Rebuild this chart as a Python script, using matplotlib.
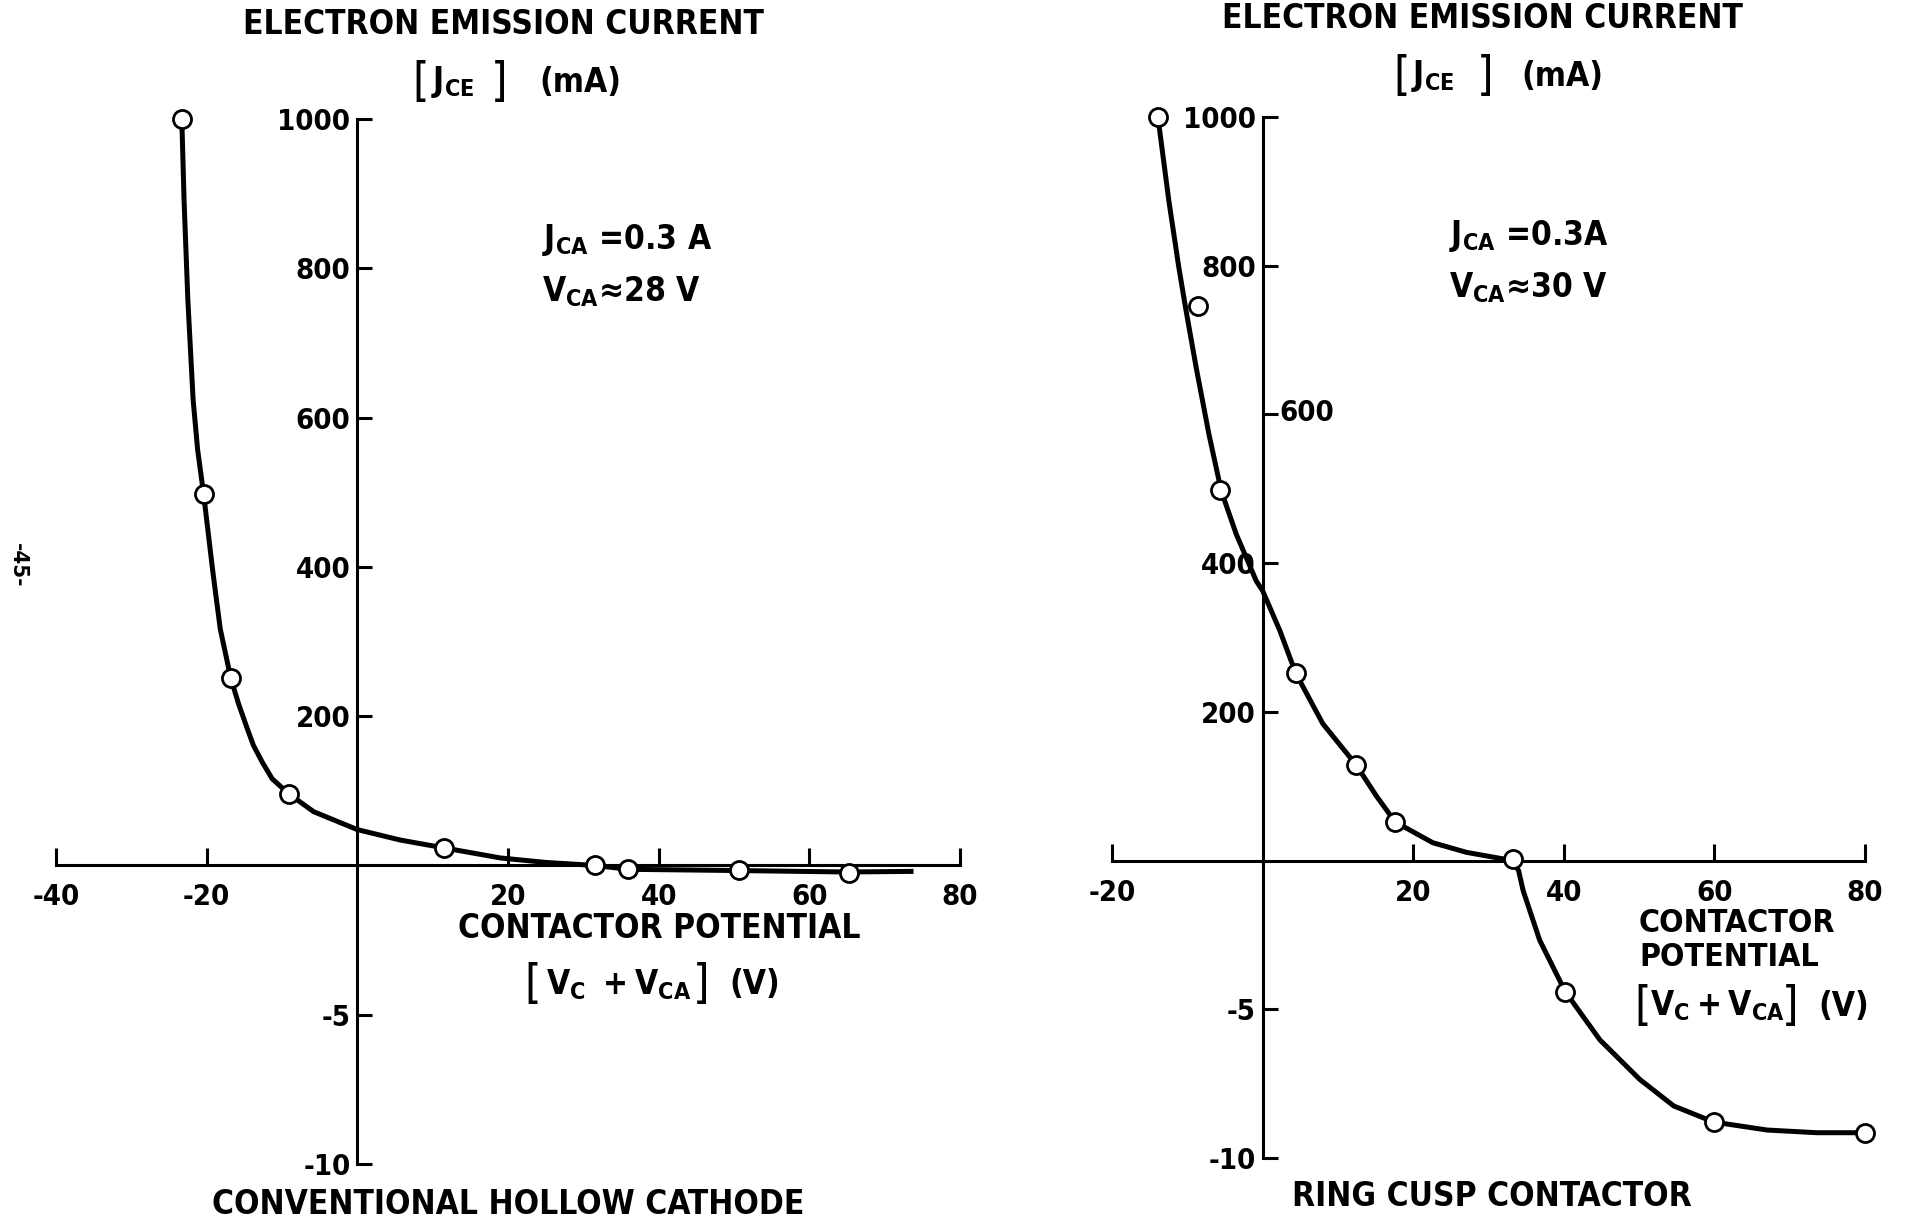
import numpy as np
import matplotlib.pyplot as plt

# conventional hollow cathode: measured points and drawn curve
hc_v = [-23.3, -20.4, -16.8, -9.1, 11.5, 31.5, 35.9, 50.6, 65.3]
hc_j = [1000, 497, 251, 96, 23.5, 1, -0.13, -0.16, -0.25]
hc_curve_v = [-23.3, -23.0, -22.5, -21.8, -21.2, -20.4, -19.2, -18.2, -16.8, -15.75,
              -14.6, -13.8, -12.6, -11.3, -9.1, -5.8, 0, 5.7, 11.5, 19, 25, 31.5,
              36, 50, 65, 73.5]
hc_curve_j = [1000, 891, 758, 624, 557, 497, 395, 317, 251, 216,
              183, 161, 138, 116, 96, 72, 48, 34, 23.5, 10, 4, 0,
              -0.13, -0.17, -0.22, -0.2]

# ring cusp contactor
rc_v = [-13.9, -8.6, -5.6, 4.4, 12.4, 17.6, 33.2, 40.2, 59.9, 80.0]
rc_j = [1000, 746, 498, 252, 129, 52, 2, -4.41, -8.79, -9.15]
rc_curve_v = [-13.9, -12.46, -11.13, -10.24, -8.82, -7.14, -5.49, -3.5, -0.84, 0, 2.3,
              4.4, 6.25, 8.0, 12.4, 15.1, 17.6, 22.6, 27.1, 33.2, 34.0, 34.6, 36.8,
              40.2, 44.8, 50.1, 54.6, 59.9, 67.0, 73.6, 80.0]
rc_curve_j = [1000, 888, 798, 744, 663, 574, 497, 439, 376, 363, 309,
              252, 217, 184, 129, 87, 52, 24, 11, 0, -0.34, -1.01, -2.68,
              -4.41, -6.03, -7.36, -8.25, -8.79, -9.06, -9.15, -9.15]

yticks = [-10, -5, 200, 400, 600, 800, 1000]
ytick_labels = ["-10", "-5", "200", "400", "600", "800", "1000"]
hc_xticks = [-40, -20, 20, 40, 60, 80]
rc_xticks = [-20, 20, 40, 60, 80]

W, H = 1906, 1217


def fwd(y):
    y = np.asarray(y, dtype=float)
    return np.where(y >= 0, y / 200.0, y / 5.0)


def inv(t):
    t = np.asarray(t, dtype=float)
    return np.where(t >= 0, t * 200.0, t * 5.0)


plt.rcParams['font.family'] = ['DejaVu Sans']
plt.rcParams['font.stretch'] = 'condensed'
plt.rcParams['font.weight'] = 'bold'
plt.rcParams['mathtext.fontset'] = 'custom'
plt.rcParams['mathtext.rm'] = 'DejaVu Sans:bold'

fig = plt.figure(figsize=(W / 100, H / 100), dpi=100)


def px(x, y):
    return x / W, 1 - y / H


def make_axes(rect, xlim, xticks, pts, curve):
    ax = fig.add_axes(rect)
    ax.set_yscale('function', functions=(fwd, inv))
    ax.set_xlim(*xlim)
    ax.set_ylim(-10, 1000)
    for s in ['top', 'right']:
        ax.spines[s].set_visible(False)
    ax.spines['left'].set_position(('data', 0))
    ax.spines['bottom'].set_position(('data', 0))
    for s in ['left', 'bottom']:
        ax.spines[s].set_linewidth(2.2)
    ax.set_xticks(xticks)
    ax.set_xticklabels([str(t) for t in xticks])
    ax.set_yticks(yticks)
    ax.set_yticklabels(ytick_labels)
    ax.minorticks_off()
    ax.tick_params(axis='x', direction='in', length=12, width=2.2, pad=13, labelsize=21)
    ax.tick_params(axis='y', direction='in', length=11, width=2.2, pad=5, labelsize=21)
    ax.plot(curve[0], curve[1], color='black', lw=3.6, clip_on=False, zorder=3,
            solid_joinstyle='round')
    ax.plot(pts[0], pts[1], 'o', ms=13, mfc='white', mec='black', mew=2.0,
            clip_on=False, zorder=4)
    ax.patch.set_visible(False)
    return ax


ax1 = make_axes([56 / W, 1 - 1164 / H, (960 - 56) / W, (1164 - 119) / H],
                (-40, 80), hc_xticks, (hc_v, hc_j), (hc_curve_v, hc_curve_j))
ax2 = make_axes([1112 / W, 1 - 1158 / H, (1865 - 1112) / W, (1158 - 117) / H],
                (-20, 80), rc_xticks, (rc_v, rc_j), (rc_curve_v, rc_curve_j))
labels2 = ytick_labels.copy()
labels2[4] = ""
ax2.set_yticklabels(labels2)
fig.text(*px(1279, 413), "600", fontsize=21, ha='left', va='center')

big = 24


def bracketed(xl, xin, xr, xu, y, inner, unit):
    fig.text(*px(xl, y), "[", fontsize=34, fontweight='normal', ha='left', va='center')
    fig.text(*px(xin, y), inner, fontsize=big, ha='left', va='center')
    fig.text(*px(xr, y), "]", fontsize=34, fontweight='normal', ha='left', va='center')
    fig.text(*px(xu, y), unit, fontsize=big, ha='left', va='center')


# left panel texts
fig.text(*px(503, 25), "ELECTRON EMISSION CURRENT", fontsize=big, ha='center', va='center')
bracketed(412, 431, 491, 539, 82, r"$\mathregular{J_{CE}}$", "(mA)")
fig.text(*px(542, 240), r"$\mathregular{J_{CA}}$ =0.3 A", fontsize=big, ha='left', va='center')
fig.text(*px(542, 292), r"$\mathregular{V_{CA}}$≈28 V", fontsize=big, ha='left', va='center')
fig.text(*px(659, 929), "CONTACTOR POTENTIAL", fontsize=big, ha='center', va='center')
bracketed(524, 546, 693, 729, 985, r"$\mathregular{V_{C}\ +V_{CA}}$", "(V)")
fig.text(*px(508, 1204), "CONVENTIONAL HOLLOW CATHODE", fontsize=big, ha='center', va='center')
fig.text(*px(18, 565), "-45-", fontsize=16, rotation=-90, ha='center', va='center')

# right panel texts
fig.text(*px(1482, 19), "ELECTRON EMISSION CURRENT", fontsize=big, ha='center', va='center')
bracketed(1393, 1411, 1477, 1521, 76, r"$\mathregular{J_{CE}}$", "(mA)")
fig.text(*px(1449, 236), r"$\mathregular{J_{CA}}$ =0.3A", fontsize=big, ha='left', va='center')
fig.text(*px(1449, 288), r"$\mathregular{V_{CA}}$≈30 V", fontsize=big, ha='left', va='center')
fig.text(*px(1639, 923), "CONTACTOR", fontsize=23, ha='left', va='center')
fig.text(*px(1639, 957), "POTENTIAL", fontsize=23, ha='left', va='center')
bracketed(1634, 1650, 1782, 1818, 1006, r"$\mathregular{V_{C}+V_{CA}}$", "(V)")
fig.text(*px(1492, 1196), "RING CUSP CONTACTOR", fontsize=big, ha='center', va='center')

fig.savefig("out.png", dpi=100)
